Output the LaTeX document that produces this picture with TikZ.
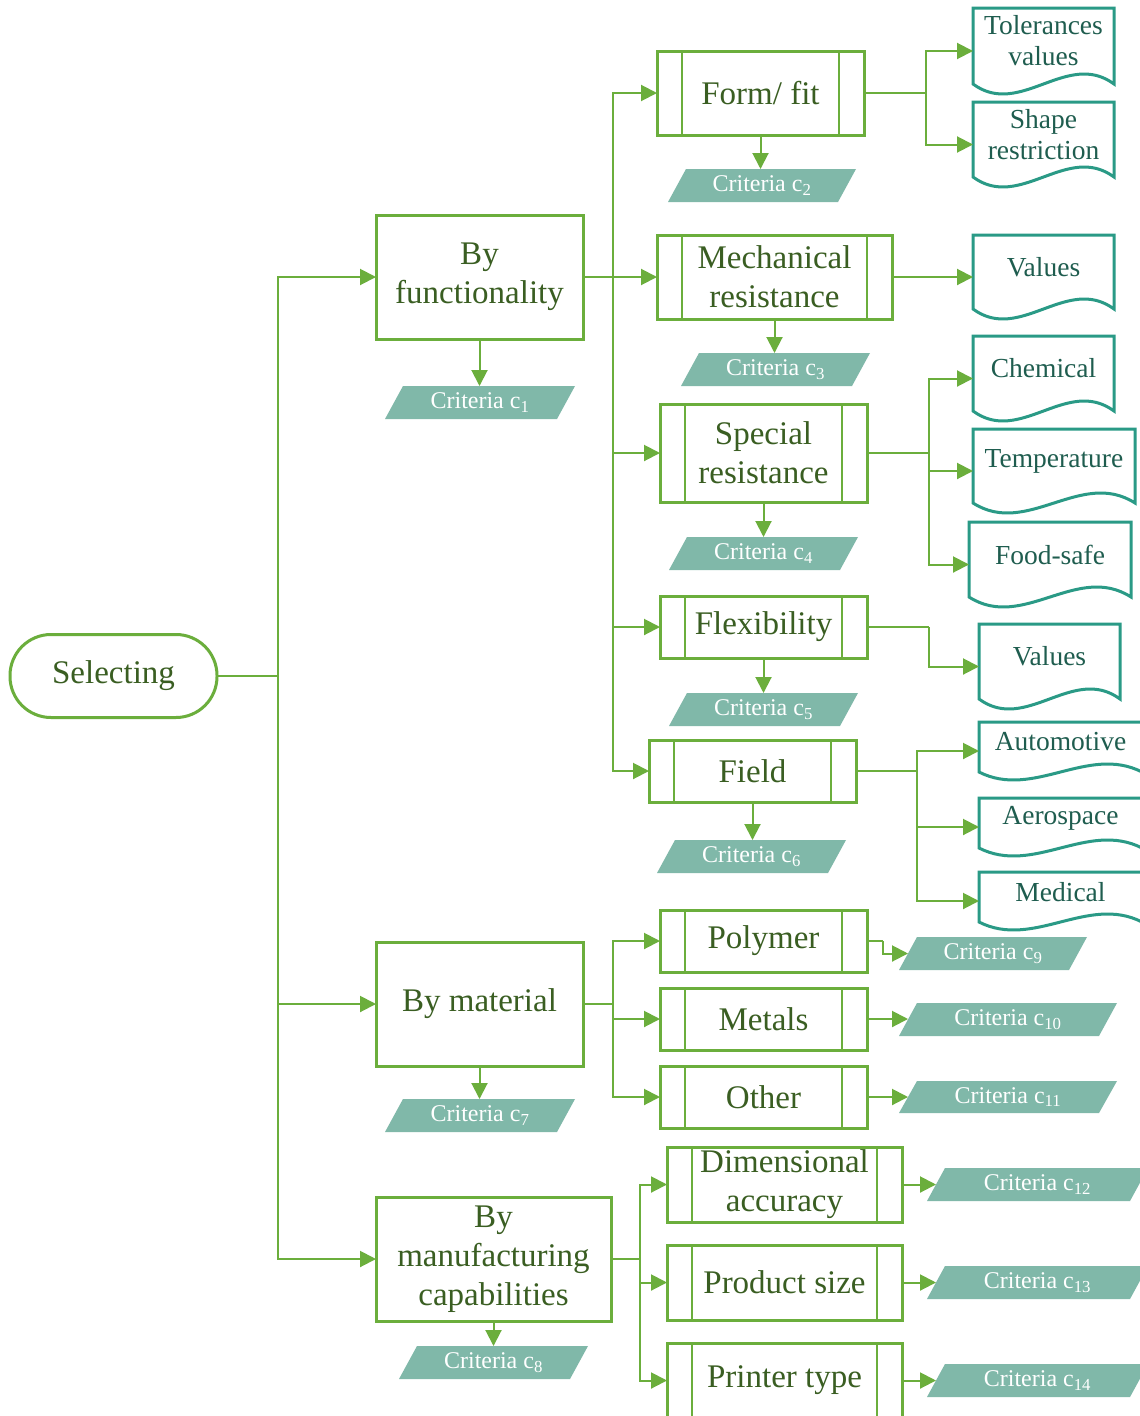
\documentclass[tikz,border=0pt]{standalone}
\usepackage{fontspec}
\setmainfont{Liberation Serif}
\usetikzlibrary{arrows.meta,calc}
\definecolor{gline}{HTML}{6BAE3C}
\definecolor{gtext}{HTML}{3A5E22}
\definecolor{critfill}{HTML}{80B8A9}
\definecolor{dline}{HTML}{2A9A86}
\definecolor{dtext}{HTML}{1F5D4F}

\newcommand\procbox[6]{%
  \node[box, minimum width={#4-#2}, minimum height={#5-#3}] (#1) at ({(#2+#4)/2},{(#3+#5)/2}) {#6};
  \draw[innerline] ({#2+25},{#3}) -- ({#2+25},{#5});
  \draw[innerline] ({#4-25},{#3}) -- ({#4-25},{#5});
}
\newcommand\crit[6]{%
  \fill[critfill] ({#2},{#5}) -- ({#2+18},{#3}) -- ({#4},{#3}) -- ({#4-18},{#5}) -- cycle;
  \node[crittext, minimum width={#4-#2-18}, minimum height={#5-#3}] (#1) at ({(#2+#4)/2},{(#3+#5)/2}) {Criteria c\textsubscript{#6}};
}
\newcommand\docnode[7]{%
  \draw[docline] ({#2},{#3}) -- ({#4},{#3}) -- ({#4},{#3+#5-#6})
     .. controls ({#4-(#4-#2)/3},{#3+#5-#6-3.46*#6}) and ({#2+(#4-#2)/3},{#3+#5-#6+3.46*#6}) .. ({#2},{#3+#5-#6}) -- cycle;
  \node[docbox, minimum width={#4-#2}, minimum height={#5}] (#1) at ({(#2+#4)/2},{#3+#5/2}) {};
  \node[doctext] (#1-t) at ({(#2+#4)/2},{#3+(#5-#6)/2-5}) {#7};
}

\begin{document}
\begin{tikzpicture}[x=1pt,y=-1pt,
  box/.style={draw=gline, line width=3pt, rectangle, inner sep=0pt, outer sep=0pt, align=center, text=gtext, font=\fontsize{33}{39}\selectfont},
  innerline/.style={draw=gline, line width=2pt},
  link/.style={draw=gline, line width=2pt},
  arr/.style={link, -{Triangle[length=16pt,width=16pt]}},
  crittext/.style={rectangle, inner sep=0pt, outer sep=0pt, text=white, font=\fontsize{24}{26}\selectfont},
  docline/.style={draw=dline, line width=3pt, fill=white},
  docbox/.style={rectangle, inner sep=0pt, outer sep=0pt},
  doctext/.style={inner sep=0pt, align=center, text=dtext, font=\fontsize{27.5}{31}\selectfont}
]
\fill[white] (0,0) rectangle (1140,1416);
\useasboundingbox (0,0) rectangle (1140,1416);

% root
\node[box, rounded corners=41pt, minimum width=207, minimum height=83] (sel) at (113.5,676) {Selecting};

% level 1
\node[box, minimum width=207, minimum height=124] (func) at (479.5,277) {By\\functionality};
\node[box, minimum width=207, minimum height=124] (mat) at (479.5,1004) {By material};
\node[box, minimum width=235, minimum height=124] (manu) at (493.5,1259) {By\\manufacturing\\capabilities};

\crit{c1}{385}{386}{575}{419}{1}
\crit{c7}{385}{1099}{575}{1132}{7}
\crit{c8}{399}{1346}{588}{1379}{8}

% level 2 functionality
\procbox{form}{657}{51}{864}{135}{Form/ fit}
\procbox{mech}{657}{235}{892}{319}{Mechanical\\resistance}
\procbox{spec}{660}{404}{867}{502}{Special\\resistance}
\procbox{flex}{660}{596}{867}{658}{Flexibility}
\procbox{field}{649}{740}{856}{802}{Field}

\crit{c2}{668}{169}{856}{202}{2}
\crit{c3}{681}{353}{870}{386}{3}
\crit{c4}{669}{537}{858}{570}{4}
\crit{c5}{669}{693}{858}{726}{5}
\crit{c6}{657}{840}{846}{873}{6}

% material
\procbox{poly}{660}{910}{867}{972}{Polymer}
\procbox{metal}{660}{988}{867}{1050}{Metals}
\procbox{other}{660}{1066}{867}{1128}{Other}
\crit{c9}{899}{937}{1087}{970}{9}
\crit{c10}{899}{1003}{1117}{1036}{10}
\crit{c11}{899}{1081}{1117}{1113}{11}

% manufacturing
\procbox{dim}{667}{1147}{902}{1222}{Dimensional\\accuracy}
\procbox{prod}{667}{1245}{902}{1320}{Product size}
\procbox{print}{667}{1343}{902}{1418}{Printer type}
\crit{c12}{927}{1168}{1148}{1201}{12}
\crit{c13}{927}{1266}{1148}{1299}{13}
\crit{c14}{927}{1364}{1148}{1397}{14}

% documents
\docnode{tol}{973}{8}{1114}{86}{10}{Tolerances\\values}
\docnode{shape}{973}{102}{1114}{85}{10}{Shape\\restriction}
\docnode{val1}{973}{235}{1114}{84}{10}{Values}
\docnode{chem}{973}{336}{1114}{85}{10}{Chemical}
\docnode{temp}{973}{429}{1135}{84}{10}{Temperature}
\docnode{food}{969}{522}{1131}{85}{10}{Food-safe}
\docnode{val2}{979}{624}{1120}{85}{10}{Values}
\docnode{auto}{979}{722}{1142}{58}{8}{Automotive}
\docnode{aero}{979}{798}{1142}{58}{8}{Aerospace}
\docnode{med}{979}{872}{1142}{58}{8}{Medical}

% connectors: root
\coordinate (j0) at (278,676);
\draw[link] (sel.east) -- (j0);
\draw[arr] (j0) |- (func.west);
\draw[arr] (j0) |- (mat.west);
\draw[arr] (j0) |- (manu.west);

% criteria arrows
\foreach \b/\c in {func/c1, mat/c7, manu/c8, form/c2, mech/c3, spec/c4, flex/c5, field/c6}
  \draw[arr] (\b.south) -- (\b.south |- \c.north);

% functionality
\coordinate (j1) at (613,277);
\draw[link] (func.east) -- (j1);
\draw[arr] (j1) |- (form.west);
\draw[arr] (j1) |- (mech.west);
\draw[arr] (j1) |- (spec.west);
\draw[arr] (j1) |- (flex.west);
\draw[arr] (j1) |- (field.west);

\coordinate (j2) at (926,93);
\draw[link] (form.east) -- (j2);
\draw[arr] (j2) |- (tol.west);
\draw[arr] (j2) |- (shape.west);

\draw[arr] (mech.east) -- (val1.west);

\coordinate (j3) at (929,453);
\draw[link] (spec.east) -- (j3);
\draw[arr] (j3) |- (chem.west);
\draw[arr] (j3) |- (temp.west);
\draw[arr] (j3) |- (food.west);

\coordinate (j4) at (929,627);
\draw[link] (flex.east) -- (j4);
\draw[arr] (j4) |- (val2.west);

\coordinate (j5) at (917,771);
\draw[link] (field.east) -- (j5);
\draw[arr] (j5) |- (auto.west);
\draw[arr] (j5) |- (aero.west);
\draw[arr] (j5) |- (med.west);

% material
\coordinate (j6) at (613,1004);
\draw[link] (mat.east) -- (j6);
\draw[arr] (j6) |- (poly.west);
\draw[arr] (j6) |- (metal.west);
\draw[arr] (j6) |- (other.west);

\coordinate (j8) at (883,941);
\draw[link] (poly.east) -- (j8);
\draw[arr] (j8) |- (c9.west);
\draw[arr] (metal.east) -- (metal.east -| c10.west);
\draw[arr] (other.east) -- (other.east -| c11.west);

% manufacturing
\coordinate (j7) at (640,1259);
\draw[link] (manu.east) -- (j7);
\draw[arr] (j7) |- (dim.west);
\draw[arr] (j7) |- (prod.west);
\draw[arr] (j7) |- (print.west);

\draw[arr] (dim.east) -- (dim.east -| c12.west);
\draw[arr] (prod.east) -- (prod.east -| c13.west);
\draw[arr] (print.east) -- (print.east -| c14.west);
\end{tikzpicture}
\end{document}
